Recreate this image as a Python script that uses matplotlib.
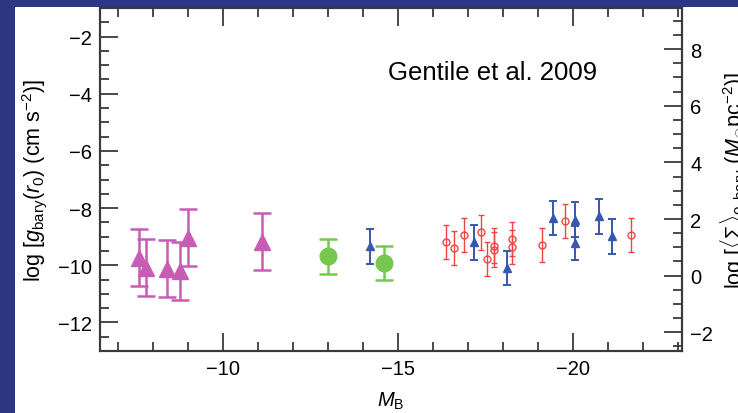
import matplotlib
matplotlib.use('Agg')
import matplotlib.pyplot as plt
from matplotlib.patches import Rectangle
from matplotlib.ticker import MultipleLocator

plt.rcParams['font.family'] = ['Liberation Sans', 'DejaVu Sans']
plt.rcParams['mathtext.fontset'] = 'custom'
plt.rcParams['mathtext.rm'] = 'Liberation Sans'
plt.rcParams['mathtext.it'] = 'Liberation Sans:italic'
plt.rcParams['mathtext.bf'] = 'Liberation Sans:bold'

# dwarf galaxies (large magenta triangles)
mag_mb = [-7.60, -7.80, -8.40, -8.77, -9.00, -11.11]
mag_g = [-9.74, -10.08, -10.12, -10.20, -9.04, -9.18]
mag_err = [1.0, 1.0, 1.0, 1.0, 1.0, 1.0]

# green discs
grn_mb = [-13.0, -14.6]
grn_g = [-9.69, -9.92]
grn_err = [0.6, 0.6]

# blue triangles
blu_mb = [-14.21, -17.17, -18.10, -19.43, -20.04, -20.04, -20.73, -21.09]
blu_g = [-9.34, -9.20, -10.09, -8.35, -8.40, -9.22, -8.29, -8.99]
blu_err = [0.6] * 8

# red open circles
red_mb = [-16.36, -16.60, -16.87, -17.36, -17.55, -17.74, -17.74, -18.24,
          -18.24, -19.12, -19.75, -21.64]
red_g = [-9.18, -9.39, -8.93, -8.85, -9.78, -9.31, -9.45, -9.07,
         -9.36, -9.28, -8.46, -8.93]
red_err = [0.6] * 12

MAG = '#c85cb5'
GRN = '#78c850'
BLU = '#3557ad'
RED = '#f04545'
AXC = '#3a3a3a'

fig = plt.figure(figsize=(7.38, 4.14), dpi=100)
fig.patch.set_facecolor('#2c3682')
fig.patches.append(Rectangle((15 / 738, 0), 1, (414 - 8) / 414,
                             transform=fig.transFigure, facecolor='white',
                             edgecolor='none', zorder=-5))

ax = fig.add_axes([100 / 738, 62 / 414, 582 / 738, 343 / 414])
ax.set_facecolor('white')

ax.errorbar(mag_mb, mag_g, yerr=mag_err, fmt='^', color=MAG, ms=11,
            elinewidth=1.8, capsize=6.5, capthick=1.8)
ax.errorbar(grn_mb, grn_g, yerr=grn_err, fmt='o', color=GRN, ms=12,
            elinewidth=1.8, capsize=6.5, capthick=1.8)
ax.errorbar(blu_mb, blu_g, yerr=blu_err, fmt='^', color=BLU, ms=5.5,
            elinewidth=1.4, capsize=3, capthick=1.4)
ax.errorbar(red_mb, red_g, yerr=red_err, fmt='o', color=RED, ms=5,
            mfc='none', mew=1.0, elinewidth=1.0, capsize=2.5, capthick=1.0)

ax.set_xlim(-6.5, -23.1)
ax.set_ylim(-13.0, -1.0)
ax.xaxis.set_major_locator(MultipleLocator(5))
ax.xaxis.set_minor_locator(MultipleLocator(1))
ax.yaxis.set_major_locator(MultipleLocator(2))
ax.yaxis.set_minor_locator(MultipleLocator(0.5))
ax.tick_params(which='both', direction='in', top=True, right=False,
               color=AXC, width=1.3, labelsize=14.5, pad=6)
ax.tick_params(which='major', length=13)
ax.tick_params(which='minor', length=6.5)

ax2 = ax.twinx()
ax2.set_ylim(-2.66, 9.45)
ax2.yaxis.set_major_locator(MultipleLocator(2))
ax2.yaxis.set_minor_locator(MultipleLocator(0.5))
ax2.tick_params(which='both', direction='in', color=AXC, width=1.3,
                labelsize=14.5, pad=6)
ax2.tick_params(which='major', length=13)
ax2.tick_params(which='minor', length=6.5)

for a in (ax, ax2):
    for s in a.spines.values():
        s.set_color(AXC)
        s.set_linewidth(1.5)

ax.set_xlabel(r'$M_{\mathrm{B}}$', fontsize=14.5, labelpad=8)
ax.set_ylabel(r'log [$g_{\mathrm{bary}}(r_0)$ (cm s$^{-2}$)]', fontsize=15.5)
ax.yaxis.set_label_coords(-0.088, 0.5)
ax2.set_ylabel(r'log [$\langle\Sigma\rangle_{0,\mathrm{bary}}$ ($M_{\odot}$pc$^{-2}$)]',
               fontsize=15.5)
ax2.yaxis.set_label_coords(1.062, 0.5)

fig.text(388 / 738, 1 - 73 / 414, 'Gentile et al. 2009', fontsize=18.5,
         va='center', ha='left')

fig.savefig('out.png', dpi=100, facecolor=fig.get_facecolor())
